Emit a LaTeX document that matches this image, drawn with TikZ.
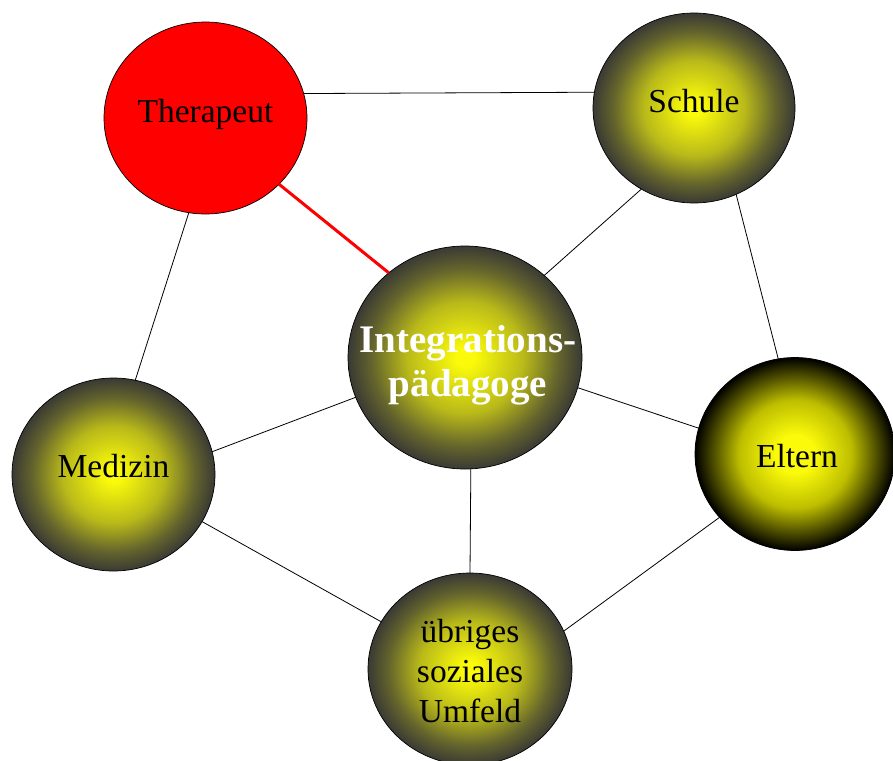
\documentclass[tikz,border=0pt]{standalone}
\usepackage{fontspec}
\setmainfont{Liberation Serif}
\usetikzlibrary{shapes.geometric}
\definecolor{edgegray}{RGB}{58,58,52}
\definecolor{ballyellow}{RGB}{250,250,10}
\definecolor{midyellow}{RGB}{185,185,26}
\definecolor{olive}{RGB}{100,100,45}
\definecolor{darkmid}{RGB}{190,190,0}
\definecolor{darkolive}{RGB}{85,85,0}
\pgfdeclareradialshading{ballshade}{\pgfpoint{0bp}{0bp}}{color(0bp)=(ballyellow); color(2bp)=(ballyellow); color(12.5bp)=(midyellow); color(20bp)=(olive); color(25bp)=(edgegray); color(50bp)=(edgegray)}
\pgfdeclareradialshading{darkballshade}{\pgfpoint{0bp}{0bp}}{color(0bp)=(ballyellow); color(5bp)=(ballyellow); color(14bp)=(darkmid); color(20bp)=(darkolive); color(25bp)=(black); color(50bp)=(black)}
\tikzset{
  ball/.style={ellipse, draw=black, line width=0.7pt, shading=ballshade, inner sep=0pt, outer sep=0pt},
  redball/.style={ellipse, draw=black, line width=0.7pt, fill=red, inner sep=0pt, outer sep=0pt},
  txt/.style={font=\fontsize{33.5}{40}\selectfont, text=black, align=center, inner sep=0pt},
  boldtxt/.style={font=\fontsize{39}{44}\selectfont\bfseries, text=white, align=center, inner sep=0pt},
  link/.style={line width=0.8pt, black},
  redlink/.style={line width=3pt, red}
}
\begin{document}
\begin{tikzpicture}[x=1pt,y=-1pt]
\useasboundingbox (0,0) rectangle (893,760);
\clip (0,0) rectangle (893,760);
\node[redball, minimum width=203pt, minimum height=192pt, label={[txt,yshift=3.5pt]center:Therapeut}] (ther) at (205.5,118) {};
\node[ball, minimum width=202pt, minimum height=190pt, label={[txt,yshift=7pt]center:Schule}] (schule) at (694,108) {};
\node[ball, minimum width=234pt, minimum height=223pt, label={[boldtxt,xshift=3pt,yshift=-7.5pt]center:{Integrations-\\pädagoge}}] (int) at (465,357.5) {};
\node[ball, minimum width=203pt, minimum height=193pt, label={[txt,yshift=8pt]center:Medizin}] (med) at (113.5,474.5) {};
\node[ball, shading=darkballshade, minimum width=200pt, minimum height=193pt, label={[txt,xshift=2pt,yshift=-2pt]center:Eltern}] (eltern) at (795,454) {};
\node[ball, minimum width=204pt, minimum height=192pt, label={[txt,yshift=-2pt]center:{übriges\\soziales\\Umfeld}}] (umf) at (470,669) {};
\draw[link] (ther.14.4) -- (schule.171.6);
\draw[redlink] (ther.-42.7) -- (int.132.6);
\draw[link] (ther.-100.8) -- (med.77.4);
\draw[link] (schule.-123.3) -- (int.46.3);
\draw[link] (schule.-64.7) -- (eltern.100.5);
\draw[link] (int.200.6) -- (med.13.6);
\draw[link] (int.-15.5) -- (eltern.165.8);
\draw[link] (int.-87.4) -- (umf.90);
\draw[link] (med.-28.3) -- (umf.152.4);
\draw[link] (eltern.220) -- (umf.22.2);
\end{tikzpicture}
\end{document}
